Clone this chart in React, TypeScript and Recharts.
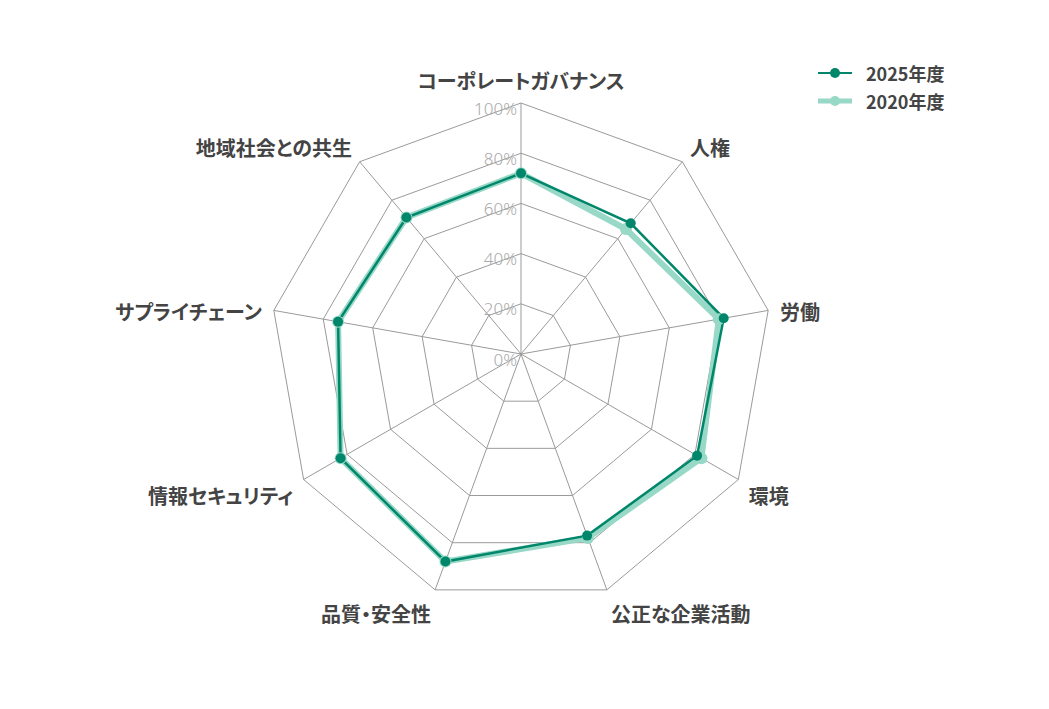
import React from "react";
import {
  RadarChart,
  Radar,
  PolarGrid,
  PolarAngleAxis,
  PolarRadiusAxis,
  Legend,
} from "recharts";

const subjects = [
  "コーポレートガバナンス",
  "人権",
  "労働",
  "環境",
  "公正な企業活動",
  "品質・安全性",
  "情報セキュリティ",
  "サプライチェーン",
  "地域社会との共生",
];

const values2025 = [72, 68, 82, 81, 77, 88, 83, 74, 71];
const values2020 = [72, 65, 80, 83, 78, 88, 83, 74, 71];

const seriesNames = ["2025年度", "2020年度"];

const data = subjects.map((subject, i) => ({
  subject,
  y2025: values2025[i],
  y2020: values2020[i],
}));

const CX = 521;
const CY = 354;
const R = 251;

const DARK = "#00876b";
const LIGHT = "#98d8c6";
const LABEL_FONT = '"Noto Sans CJK JP", "Noto Sans", sans-serif';

function AngleTick(props: any) {
  const { payload, index } = props;
  const angle =
    payload && typeof payload.coordinate === "number"
      ? payload.coordinate
      : 90 - (index ?? 0) * (360 / subjects.length);
  const rad = (angle * Math.PI) / 180;
  const sx = Math.cos(rad);
  const sy = -Math.sin(rad);
  const ox = CX + R * sx;
  const oy = CY + R * sy;
  const x = ox + 12 * sx;
  const y = oy + 23 * sy + 5 * Math.abs(sx);
  const anchor = Math.abs(sx) < 0.05 ? "middle" : sx > 0 ? "start" : "end";
  return (
    <text
      x={x}
      y={y}
      textAnchor={anchor}
      dominantBaseline="central"
      fill="#444"
      fontSize={20}
      fontWeight={700}
      fontFamily={LABEL_FONT}
      style={{ fontFeatureSettings: '"palt"' }}
    >
      {payload.value}
    </text>
  );
}

function RadiusTick(props: any) {
  const { x, y, payload } = props;
  return (
    <text
      x={x - 4}
      y={y + 5}
      textAnchor="end"
      dominantBaseline="central"
      fill="#aaa"
      fontSize={17}
      fontWeight={300}
      fontFamily='"Noto Sans", sans-serif'
    >
      {payload.value}%
    </text>
  );
}

const makeDot = (color: string, r: number) => (p: any) => (
  <circle key={`dot-${p.index}`} cx={p.cx} cy={p.cy} r={r} fill={color} stroke="none" />
);

function LegendBox() {
  const items = [
    { name: seriesNames[0], color: DARK, width: 2 },
    { name: seriesNames[1], color: LIGHT, width: 5 },
  ];
  return (
    <svg width={200} height={60}>
      {items.map((it, i) => {
        const cy = 15 + i * 28;
        return (
          <g key={it.name}>
            <line x1={6} x2={40} y1={cy} y2={cy} stroke={it.color} strokeWidth={it.width} />
            <circle cx={23} cy={cy} r={5} fill={it.color} />
            <text
              x={54}
              y={cy}
              dominantBaseline="central"
              fill="#444"
              fontSize={18}
              fontWeight={700}
              fontFamily={LABEL_FONT}
            >
              {it.name}
            </text>
          </g>
        );
      })}
    </svg>
  );
}

export default function App() {
  return (
    <div style={{ position: "absolute", left: 0, top: 0, background: "#fff" }}>
      <RadarChart
        width={1049}
        height={709}
        data={data}
        cx={CX}
        cy={CY}
        outerRadius={R}
        startAngle={90}
        endAngle={-270}
      >
        <PolarGrid gridType="polygon" stroke="#9a9a9a" strokeWidth={1} />
        <PolarAngleAxis dataKey="subject" tick={<AngleTick />} tickLine={false} axisLine={false} />
        <PolarRadiusAxis
          angle={90}
          domain={[0, 100]}
          tickCount={6}
          axisLine={false}
          tick={<RadiusTick />}
        />
        <Radar
          name={seriesNames[1]}
          dataKey="y2020"
          stroke={LIGHT}
          strokeWidth={6}
          fill="none"
          fillOpacity={0}
          dot={makeDot(LIGHT, 6)}
          isAnimationActive={false}
        />
        <Radar
          name={seriesNames[0]}
          dataKey="y2025"
          stroke={DARK}
          strokeWidth={2.5}
          fill="none"
          fillOpacity={0}
          dot={makeDot(DARK, 5)}
          isAnimationActive={false}
        />
        <Legend
          content={<LegendBox />}
          wrapperStyle={{ top: 58, left: 812, width: 200, height: 60 }}
        />
      </RadarChart>
    </div>
  );
}
